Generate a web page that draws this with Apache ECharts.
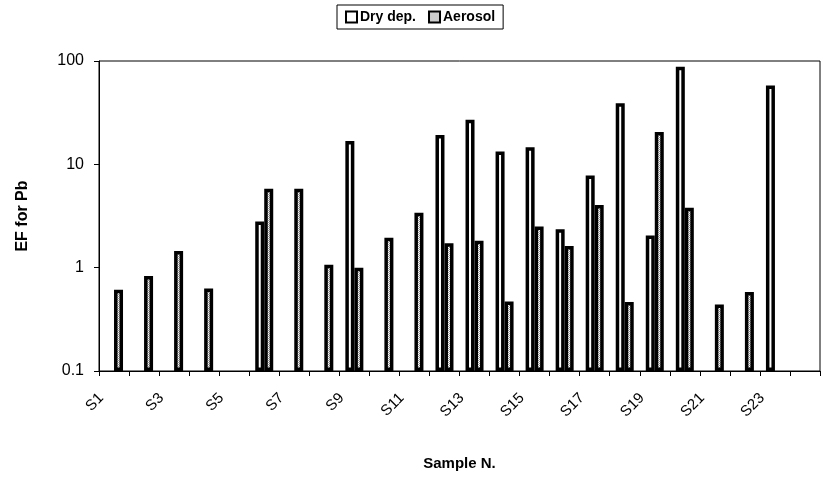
<!DOCTYPE html>
<html>
<head>
<meta charset="utf-8">
<script src="https://cdn.jsdelivr.net/npm/echarts@6/dist/echarts.min.js"></script>
<style>
html,body{margin:0;padding:0;background:#fff;}
#chart{width:821px;height:480px;}
</style>
</head>
<body>
<div id="chart"></div>
<script>
// ---- data ----
const categories = ["S1","S2","S3","S4","S5","S6","S7","S8","S9","S10","S11","S12",
                    "S13","S14","S15","S16","S17","S18","S19","S20","S21","S22","S23","S24"];
const dryDep = [null,null,null,null,null,2.8,null,null,16.8,null,null,19.2,
                27,13.3,14.6,2.35,7.8,39,2.05,88,null,null,58,null];
const aerosol = [0.61,0.83,1.45,0.63,null,5.8,5.8,1.07,1.0,1.95,3.4,1.72,
                 1.82,0.47,2.5,1.62,4.05,0.465,20.5,3.8,0.44,0.58,null,null];
const yTicks = [0.1, 1, 10, 100];
const seriesNames = ["Dry dep.", "Aerosol"];

// hatched fill pattern for Aerosol
function makePattern(){
  const c = document.createElement('canvas');
  c.width = 4; c.height = 4;
  const g = c.getContext('2d');
  g.fillStyle = '#ffffff'; g.fillRect(0,0,4,4);
  g.fillStyle = '#999999';
  g.fillRect(0,0,1,1); g.fillRect(2,0,1,1);
  g.fillRect(1,1,1,1); g.fillRect(3,1,1,1);
  g.fillRect(0,2,1,1); g.fillRect(2,2,1,1);
  g.fillRect(1,3,1,1); g.fillRect(3,3,1,1);
  return c;
}
const pat = makePattern();

const chart = echarts.init(document.getElementById('chart'), null, {renderer:'canvas'});
const font = 'Arial, "Liberation Sans", Helvetica, sans-serif';
chart.setOption({
  animation: false,
  backgroundColor: '#fff',
  textStyle: { fontFamily: font, color: '#000' },
  legend: {
    data: seriesNames,
    left: 337, top: 5,
    orient: 'horizontal',
    itemWidth: 11, itemHeight: 11, itemGap: 12,
    borderColor: '#000', borderWidth: 1,
    padding: [5, 8, 5, 8],
    textStyle: { fontFamily: font, fontWeight: 'bold', fontSize: 14, color: '#000', padding: [0,0,0,-2] },
    icon: 'rect'
  },
  grid: {
    left: 99, right: 1, top: 61, bottom: 109,
    show: true, borderColor: '#000', borderWidth: 1
  },
  xAxis: {
    type: 'category',
    data: categories,
    name: 'Sample N.',
    nameLocation: 'middle',
    nameGap: 85,
    nameTextStyle: { fontFamily: font, fontWeight: 'bold', fontSize: 15, color: '#000' },
    axisLine: { lineStyle: { color: '#000', width: 1 } },
    axisTick: { show: true, interval: 0, length: 5, lineStyle: { color: '#000' } },
    axisLabel: { interval: 1, rotate: 45, fontSize: 15, color: '#000', fontFamily: font, margin: 12,
                 padding: [0, 18, 0, 0] }
  },
  yAxis: {
    type: 'log',
    logBase: 10,
    min: yTicks[0], max: yTicks[yTicks.length-1],
    startValue: yTicks[0],
    name: 'EF for Pb',
    nameLocation: 'middle',
    nameGap: 68,
    nameRotate: 90,
    nameTextStyle: { fontFamily: font, fontWeight: 'bold', fontSize: 16, color: '#000' },
    axisLine: { show: true, lineStyle: { color: '#000', width: 1 } },
    axisTick: { show: true, length: 5, lineStyle: { color: '#000' } },
    splitLine: { show: false },
    axisLabel: { fontSize: 16, color: '#000', fontFamily: font, margin: 15,
                 formatter: v => String(v) }
  },
  series: [
    {
      name: seriesNames[0], type: 'bar', data: dryDep,
      barWidth: 9, barGap: '0%',
      itemStyle: { color: '#fff', borderColor: '#000', borderWidth: 3.5 }
    },
    {
      name: seriesNames[1], type: 'bar', data: aerosol,
      barWidth: 9, barGap: '0%',
      itemStyle: { color: { image: pat, repeat: 'repeat' }, borderColor: '#000', borderWidth: 3.5 }
    }
  ]
});
</script>
</body>
</html>
